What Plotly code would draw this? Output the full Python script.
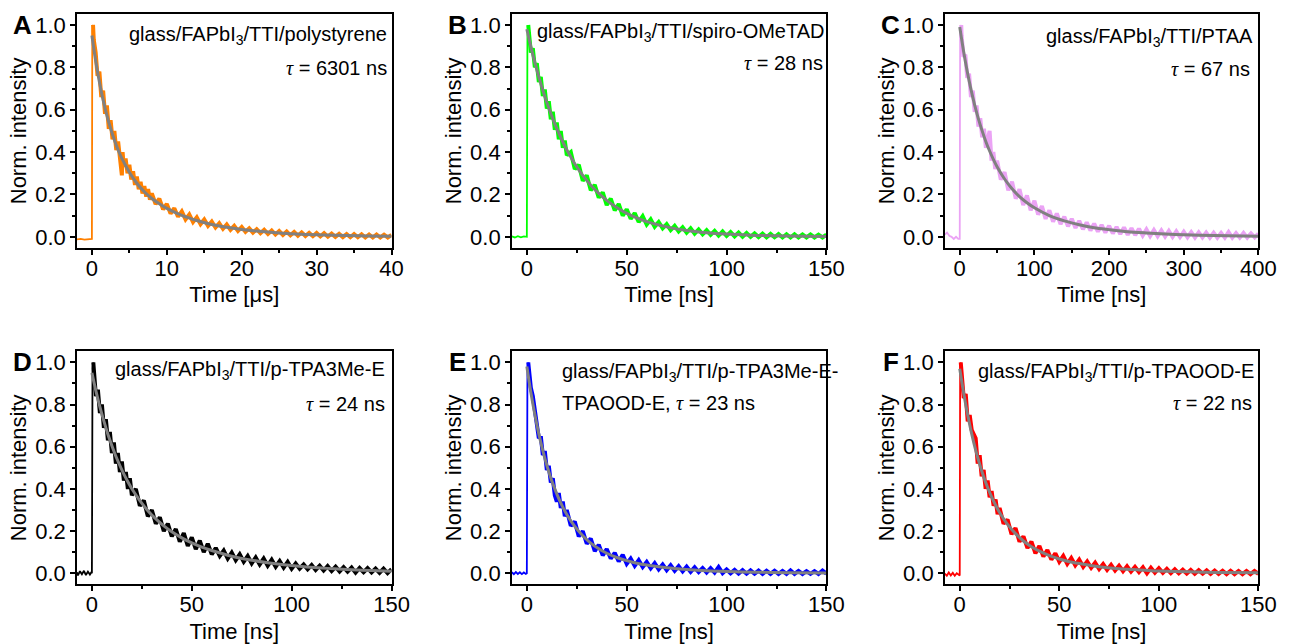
import plotly.graph_objects as go

# ---------------- data ----------------
panels = ["A", "B", "C", "D", "E", "F"]
sample_labels = [
    "glass/FAPbI<sub>3</sub>/TTI/polystyrene",
    "glass/FAPbI<sub>3</sub>/TTI/spiro-OMeTAD",
    "glass/FAPbI<sub>3</sub>/TTI/PTAA",
    "glass/FAPbI<sub>3</sub>/TTI/p-TPA3Me-E",
    "glass/FAPbI<sub>3</sub>/TTI/p-TPA3Me-E-",
    "glass/FAPbI<sub>3</sub>/TTI/p-TPAOOD-E",
]
tau_values = ["6301", "28", "67", "24", "23", "22"]
time_titles = ["Time [μs]", "Time [ns]", "Time [ns]", "Time [ns]", "Time [ns]", "Time [ns]"]
colors = ["#FF8000", "#00FF00", "#EBA3F5", "#000000", "#0000FF", "#FF0000"]
fit_color = "#808080"

# Panel A (time in µs)
A_t = [-2.0, -1.5, -1.0, -0.5, -0.1, 0.0, 0.05, 0.15,
       0.25, 0.5, 0.75, 1.0, 1.25, 1.5, 1.75, 2.0, 2.25, 2.5, 2.75, 3.0, 3.25, 3.5, 3.75,
       4.0, 4.1,
       4.25, 4.5, 4.75, 5.0, 5.25, 5.5, 5.75, 6.0, 6.25, 6.5, 6.75, 7.0, 7.25, 7.5, 7.75, 8.0,
       8.5, 9.0, 9.5, 10.0, 10.5, 11.0, 11.5, 12.0, 12.5, 13.0, 13.5, 14.0, 14.5, 15.0, 15.5,
       16.0, 16.5, 17.0, 17.5, 18.0, 18.5, 19.0, 19.5, 20.0,
       20.5, 21.0, 21.5, 22.0, 22.5, 23.0, 23.5, 24.0, 24.5, 25.0, 25.5, 26.0, 26.5, 27.0, 27.5,
       28.0, 28.5, 29.0, 29.5, 30.0, 30.5, 31.0, 31.5, 32.0, 32.5, 33.0, 33.5, 34.0, 34.5, 35.0,
       35.5, 36.0, 36.5, 37.0, 37.5, 38.0, 38.5, 39.0, 39.5, 40.0]
A_y = [-0.012, -0.010, -0.013, -0.011, -0.012, -0.010, 0.97, 1.00,
       0.93, 0.87, 0.76, 0.78, 0.66, 0.69, 0.58, 0.62, 0.51, 0.55, 0.46, 0.50, 0.41, 0.45, 0.36,
       0.29, 0.40,
       0.33, 0.37, 0.30, 0.34, 0.27, 0.31, 0.245, 0.285, 0.225, 0.26, 0.205, 0.24, 0.19, 0.225,
       0.175, 0.205,
       0.155, 0.18, 0.13, 0.155, 0.11, 0.135, 0.095, 0.12, 0.082, 0.105, 0.07, 0.092, 0.06,
       0.082, 0.052, 0.072, 0.044, 0.064, 0.038, 0.058, 0.033, 0.052, 0.028, 0.046,
       0.024, 0.040, 0.020, 0.036, 0.017, 0.033, 0.014, 0.030, 0.011, 0.027, 0.009, 0.025, 0.007,
       0.023, 0.005, 0.021, 0.004, 0.019, 0.003, 0.018, 0.002, 0.017, 0.001, 0.015, 0.000, 0.014,
       -0.001, 0.013, -0.002, 0.013, -0.002, 0.012, -0.003, 0.011, -0.003, 0.011, -0.003, 0.010,
       -0.003, 0.009]
A_fit_t = [0, 0.5, 1, 1.5, 2, 2.5, 3, 3.5, 4, 5, 6, 7, 8, 9, 10, 12, 14, 16, 18, 20, 22, 25, 28,
           31, 34, 37, 40]
A_fit = [0.95, 0.831, 0.731, 0.645, 0.573, 0.511, 0.457, 0.410, 0.370, 0.305, 0.253, 0.213,
         0.181, 0.156, 0.134, 0.101, 0.077, 0.058, 0.045, 0.035, 0.027, 0.018, 0.012, 0.0085,
         0.0058, 0.0039, 0.0027]

# common time grid (ns) for panels B, D, E, F after the pulse
ns_t = [1, 2, 3, 4, 5, 6, 7, 8, 9, 10, 11, 12, 13, 14, 15, 16, 17, 18, 19, 20,
        22, 24, 26, 28, 30, 32, 34, 36, 38, 40, 42, 44, 46, 48, 50, 52, 54, 56, 58, 60,
        62, 64, 66, 68, 70, 72, 74, 76, 78, 80, 82, 84, 86, 88, 90, 92, 94, 96, 98, 100,
        102, 104, 106, 108, 110, 112, 114, 116, 118, 120, 122, 124, 126, 128, 130, 132, 134,
        136, 138, 140, 142, 144, 146, 148, 150]
ns_fit_t = [0, 2, 4, 6, 8, 10, 12, 14, 16, 18, 20, 24, 28, 32, 36, 40, 45, 50, 55, 60, 70, 80, 90,
            100, 115, 130, 150]

# Panel B
B_t = [-7.5, -6, -4.5, -3, -1.5, -0.3, 0, 0.3, 0.7] + ns_t
B_y = [0.002, -0.003, 0.003, -0.002, 0.002, 0.0, 0.0, 0.95, 1.0,
       0.97, 0.87, 0.89, 0.80, 0.82, 0.73, 0.755, 0.665, 0.695, 0.605,
       0.64, 0.555, 0.59, 0.505, 0.54, 0.46, 0.50, 0.42, 0.455, 0.385,
       0.40, 0.32, 0.34, 0.265, 0.29, 0.22, 0.245, 0.185, 0.21, 0.15,
       0.18, 0.125, 0.155, 0.10, 0.13, 0.085, 0.112, 0.07, 0.097, 0.058,
       0.082, 0.048, 0.07, 0.04, 0.06, 0.032, 0.052, 0.026, 0.045, 0.02,
       0.04, 0.015, 0.035, 0.012, 0.031, 0.009, 0.028, 0.006, 0.025, 0.004,
       0.022, 0.002, 0.02, 0.001, 0.018, 0.000, 0.016, -0.001, 0.015, -0.002,
       0.014, -0.002, 0.013, -0.003, 0.012, -0.003, 0.012, -0.003, 0.011, -0.003,
       0.011, -0.003, 0.010, -0.003, 0.010]
B_fit = [0.98, 0.898, 0.823, 0.755, 0.692, 0.634, 0.582, 0.533, 0.489, 0.448, 0.411, 0.345,
         0.290, 0.244, 0.205, 0.172, 0.1385, 0.111, 0.0897, 0.072, 0.047, 0.030, 0.0196, 0.013,
         0.0066, 0.0034, 0.0014]

# Panel C
C_t = [-20, -17, -14, -11, -8, -5, -2, 0, 0.5, 2,
       2.5, 5, 7.5, 10, 12.5, 15, 17.5, 20, 22.5, 25, 27.5, 30, 32.5, 35, 37.5, 40, 42.5, 45,
       47.5, 50,
       55, 60, 65, 70, 75, 80, 85, 90, 95, 100, 105, 110, 115, 120, 125, 130, 135, 140, 145, 150,
       155, 160, 165, 170, 175, 180, 185, 190, 195, 200, 205, 210, 215, 220, 225, 230, 235, 240,
       245, 250, 255, 260, 265, 270, 275, 280, 285, 290, 295, 300, 305, 310, 315, 320, 325, 330,
       335, 340, 345, 350, 355, 360, 365, 370, 375, 380, 385, 390, 395, 400]
C_y = [0.01, 0.02, 0.005, 0.0, -0.01, 0.0, -0.01, -0.01, 0.97, 1.0,
       0.95, 0.85, 0.86, 0.75, 0.77, 0.66, 0.69, 0.59, 0.62, 0.52, 0.56, 0.47, 0.51, 0.42, 0.46,
       0.50, 0.36, 0.40, 0.32, 0.36,
       0.27, 0.305, 0.22, 0.26, 0.18, 0.225, 0.15, 0.195, 0.125, 0.17, 0.105, 0.145, 0.085,
       0.125, 0.072, 0.11, 0.06, 0.095, 0.05, 0.085, 0.042, 0.075, 0.036, 0.068, 0.03, 0.062,
       0.025, 0.056, 0.02, 0.052, 0.016, 0.047, 0.013, 0.044, 0.01, 0.041, 0.008, 0.038, 0.006,
       0.035, 0.004, 0.032, 0.003, 0.03, 0.001, 0.028, 0.000, 0.026, -0.001, 0.024, -0.002,
       0.022, -0.003, 0.021, -0.003, 0.02, -0.004, 0.019, -0.004, 0.018, -0.004, 0.022, -0.004,
       0.017, -0.004, 0.018, -0.004, 0.016, -0.003, 0.015]
C_fit_t = [0, 5, 10, 15, 20, 25, 30, 35, 40, 45, 50, 60, 70, 80, 90, 100, 120, 140, 160, 180, 200,
           225, 250, 275, 300, 340, 380, 400]
C_fit = [0.99, 0.878, 0.781, 0.696, 0.622, 0.557, 0.500, 0.449, 0.405, 0.366, 0.331, 0.273, 0.227,
         0.190, 0.161, 0.137, 0.100, 0.075, 0.057, 0.043, 0.034, 0.024, 0.018, 0.013, 0.0095,
         0.0058, 0.0036, 0.0028]

# Panel D
D_t = [-7.5, -7, -6, -5, -4, -3, -2, -1, -0.3, 0, 0.3, 0.7] + ns_t
D_y = [0.005, -0.01, 0.01, -0.005, 0.012, -0.008, 0.008, -0.006, 0.004, 0.0, 0.97, 1.0,
       0.95, 0.84, 0.87, 0.76, 0.80, 0.69, 0.73, 0.63, 0.67, 0.57,
       0.62, 0.52, 0.57, 0.48, 0.53, 0.44, 0.48, 0.40, 0.45, 0.37,
       0.40, 0.32, 0.345, 0.27, 0.30, 0.235, 0.265, 0.20, 0.235, 0.175,
       0.21, 0.15, 0.19, 0.13, 0.17, 0.115, 0.155, 0.10, 0.14, 0.09,
       0.12, 0.082, 0.108, 0.07, 0.098, 0.062, 0.09, 0.055, 0.082, 0.047,
       0.075, 0.042, 0.07, 0.036, 0.064, 0.031, 0.058, 0.027, 0.054, 0.022,
       0.046, 0.022, 0.042, 0.019, 0.039, 0.016, 0.036, 0.013, 0.034, 0.011,
       0.031, 0.009, 0.029, 0.008, 0.027, 0.003, 0.025, 0.005, 0.024, 0.004,
       0.022, 0.002, 0.022, 0.001, 0.02]
D_fit = [0.95, 0.865, 0.789, 0.721, 0.659, 0.605, 0.555, 0.511, 0.470, 0.434, 0.401, 0.345,
         0.297, 0.258, 0.225, 0.197, 0.168, 0.144, 0.124, 0.108, 0.081, 0.062, 0.048, 0.037,
         0.0248, 0.0171, 0.0103]

# Panel E
E_t = [-7.5, -6.5, -5.5, -4.5, -3.5, -2.5, -1.5, -0.5, 0, 0.3, 0.7] + ns_t
E_y = [0.005, -0.004, 0.006, -0.003, 0.005, -0.004, 0.004, -0.003, 0.0, 0.97, 1.0,
       0.96, 0.88, 0.84, 0.78, 0.73, 0.64, 0.65, 0.56, 0.58, 0.49,
       0.51, 0.43, 0.45, 0.37, 0.34, 0.38, 0.31, 0.34, 0.27, 0.30,
       0.225, 0.245, 0.175, 0.20, 0.14, 0.165, 0.105, 0.135, 0.085, 0.115,
       0.07, 0.097, 0.056, 0.088, 0.045, 0.07, 0.036, 0.062, 0.03, 0.054,
       0.024, 0.048, 0.019, 0.042, 0.015, 0.038, 0.012, 0.034, 0.009, 0.031,
       0.007, 0.028, 0.006, 0.025, 0.004, 0.024, 0.003, 0.03, 0.001, 0.018,
       0.000, 0.016, -0.001, 0.015, -0.002, 0.014, -0.002, 0.013, -0.003, 0.012,
       -0.003, 0.012, -0.003, 0.011, -0.003, 0.014, -0.003, 0.011, -0.003, 0.010,
       -0.003, 0.010, -0.003, 0.013, -0.002]
E_fit = [0.98, 0.858, 0.753, 0.661, 0.582, 0.512, 0.452, 0.400, 0.354, 0.314, 0.279, 0.222,
         0.178, 0.143, 0.116, 0.095, 0.075, 0.060, 0.048, 0.039, 0.026, 0.018, 0.012, 0.0086,
         0.005, 0.003, 0.0015]

# Panel F
F_t = [-7.5, -6.5, -5.5, -4.5, -3.5, -2.5, -1.5, -0.5, 0, 0.2, 0.5] + ns_t
F_y = [-0.002, -0.012, 0.004, -0.010, 0.002, -0.012, 0.000, -0.010, -0.010, 0.97, 1.0,
       0.95, 0.83, 0.85, 0.72, 0.75, 0.68, 0.66, 0.64, 0.52, 0.56,
       0.46, 0.49, 0.40, 0.44, 0.36, 0.39, 0.32, 0.35, 0.28, 0.31,
       0.235, 0.255, 0.185, 0.215, 0.15, 0.175, 0.12, 0.15, 0.095, 0.13,
       0.08, 0.11, 0.065, 0.095, 0.055, 0.082, 0.045, 0.072, 0.038, 0.064,
       0.031, 0.056, 0.026, 0.05, 0.02, 0.044, 0.016, 0.04, 0.013, 0.036,
       0.01, 0.033, 0.008, 0.03, 0.006, 0.028, 0.0, 0.026, 0.003, 0.024,
       0.002, 0.021, 0.001, 0.019, 0.000, 0.017, -0.001, 0.016, -0.002, 0.015,
       -0.002, 0.014, -0.003, 0.013, -0.003, 0.012, -0.004, 0.012, -0.004, 0.011,
       -0.004, 0.011, -0.004, 0.011, -0.003]
F_fit = [0.97, 0.852, 0.750, 0.661, 0.584, 0.517, 0.458, 0.407, 0.362, 0.323, 0.288, 0.232,
         0.188, 0.153, 0.126, 0.105, 0.084, 0.068, 0.055, 0.046, 0.031, 0.022, 0.016, 0.011,
         0.0069, 0.0043, 0.0023]

data_t = [A_t, B_t, C_t, D_t, E_t, F_t]
data_y = [A_y, B_y, C_y, D_y, E_y, F_y]
fit_t = [A_fit_t, ns_fit_t, C_fit_t, ns_fit_t, ns_fit_t, ns_fit_t]
fit_y = [A_fit, B_fit, C_fit, D_fit, E_fit, F_fit]
for _t, _y in list(zip(data_t, data_y)) + list(zip(fit_t, fit_y)):
    assert len(_t) == len(_y), (len(_t), len(_y))
x_ranges = [[-2, 40], [-7.5, 150], [-20, 400], [-7.5, 150], [-7.5, 150], [-7.5, 150]]
x_dticks = [10, 50, 100, 50, 50, 50]

# ---------------- layout geometry ----------------
W, H = 1308, 644
col_px = [(78, 397), (519, 838), (958, 1276)]
row_px = [(13, 248), (352, 586)]

FONT = "Arial, Liberation Sans, Helvetica, sans-serif"
TAU = '<span style="font-family:Times New Roman, Liberation Serif, serif"><i>τ</i></span>'

fig = go.Figure()
layout = dict(
    width=W, height=H, margin=dict(l=0, r=0, t=0, b=0),
    paper_bgcolor="white", plot_bgcolor="white", showlegend=False,
    font=dict(family=FONT, size=22, color="black"),
)

annotations = []
for i in range(6):
    r, c = divmod(i, 3)
    n = "" if i == 0 else str(i + 1)
    xa, ya = "x" + n, "y" + n
    x0, x1 = col_px[c]
    y0, y1 = row_px[r]
    ts, ys = data_t[i], data_y[i]
    k = ys.index(max(ys))  # peak of the pulse
    # pre-pulse baseline and rising edge: thin line
    fig.add_trace(go.Scatter(x=ts[:k + 1], y=ys[:k + 1], mode="lines",
                             line=dict(color=colors[i], width=1.8), xaxis=xa, yaxis=ya))
    # noisy decay: thick line so the noise forms a band like the original
    fig.add_trace(go.Scatter(x=ts[k:], y=ys[k:], mode="lines",
                             line=dict(color=colors[i], width=4), xaxis=xa, yaxis=ya))
    # exponential fit
    fig.add_trace(go.Scatter(x=fit_t[i], y=fit_y[i], mode="lines",
                             line=dict(color=fit_color, width=3, shape="spline", smoothing=0.8),
                             xaxis=xa, yaxis=ya))
    common = dict(showline=True, linecolor="black", linewidth=1.5, mirror=True,
                  ticks="outside", ticklen=5, tickwidth=1.5, tickcolor="black",
                  showgrid=False, zeroline=False,
                  tickfont=dict(family=FONT, size=22, color="black"))
    layout["xaxis" + n] = dict(
        common, domain=[x0 / W, x1 / W], anchor=ya, range=x_ranges[i],
        dtick=x_dticks[i], tick0=0, ticklabelstandoff=-5,
        minor=dict(ticks="outside", ticklen=3, tickwidth=1.5, tickcolor="black",
                   dtick=x_dticks[i] / 2, tick0=0),
        title=dict(text=time_titles[i], font=dict(family=FONT, size=22), standoff=7),
    )
    layout["yaxis" + n] = dict(
        common, domain=[1 - y1 / H, 1 - y0 / H], anchor=xa, range=[-0.052, 1.052],
        dtick=0.2, tick0=0, tickformat=".1f",
        minor=dict(ticks="outside", ticklen=3, tickwidth=1.5, tickcolor="black",
                   dtick=0.1, tick0=0),
        title=dict(text="Norm. intensity", font=dict(family=FONT, size=22), standoff=2),
    )
    # panel letter
    annotations.append(dict(text="<b>%s</b>" % panels[i], xref="paper", yref="paper",
                            x=(x0 - 55) / W, y=1 - (y0 + 11) / H, xanchor="center",
                            yanchor="middle", showarrow=False,
                            font=dict(family=FONT, size=26, color="black")))
# sample labels and lifetimes (positions in axis-domain fractions)
lab_pos = [(0.991, 0.906, 0.991, 0.770), (0.998, 0.919, 0.994, 0.791),
           (0.990, 0.898, 0.979, 0.766), (0.985, 0.916, 0.985, 0.774),
           (0.153, 0.910, 0.153, 0.778), (0.991, 0.910, 0.985, 0.778)]
for i in range(6):
    n = "" if i == 0 else str(i + 1)
    lx, ly, tx, ty = lab_pos[i]
    anchor = "left" if i == 4 else "right"
    annotations.append(dict(text=sample_labels[i], xref="x%s domain" % n, yref="y%s domain" % n,
                            x=lx, y=ly, xanchor=anchor, yanchor="middle", showarrow=False,
                            font=dict(family=FONT, size=20, color="black")))
    if i == 4:
        tau_text = "TPAOOD-E, " + TAU + " = %s ns" % tau_values[i]
    else:
        tau_text = TAU + " = %s ns" % tau_values[i]
    annotations.append(dict(text=tau_text, xref="x%s domain" % n, yref="y%s domain" % n,
                            x=tx, y=ty, xanchor=anchor, yanchor="middle", showarrow=False,
                            font=dict(family=FONT, size=20, color="black")))
layout["annotations"] = annotations
fig.update_layout(**layout)
fig.write_html("out.html")
